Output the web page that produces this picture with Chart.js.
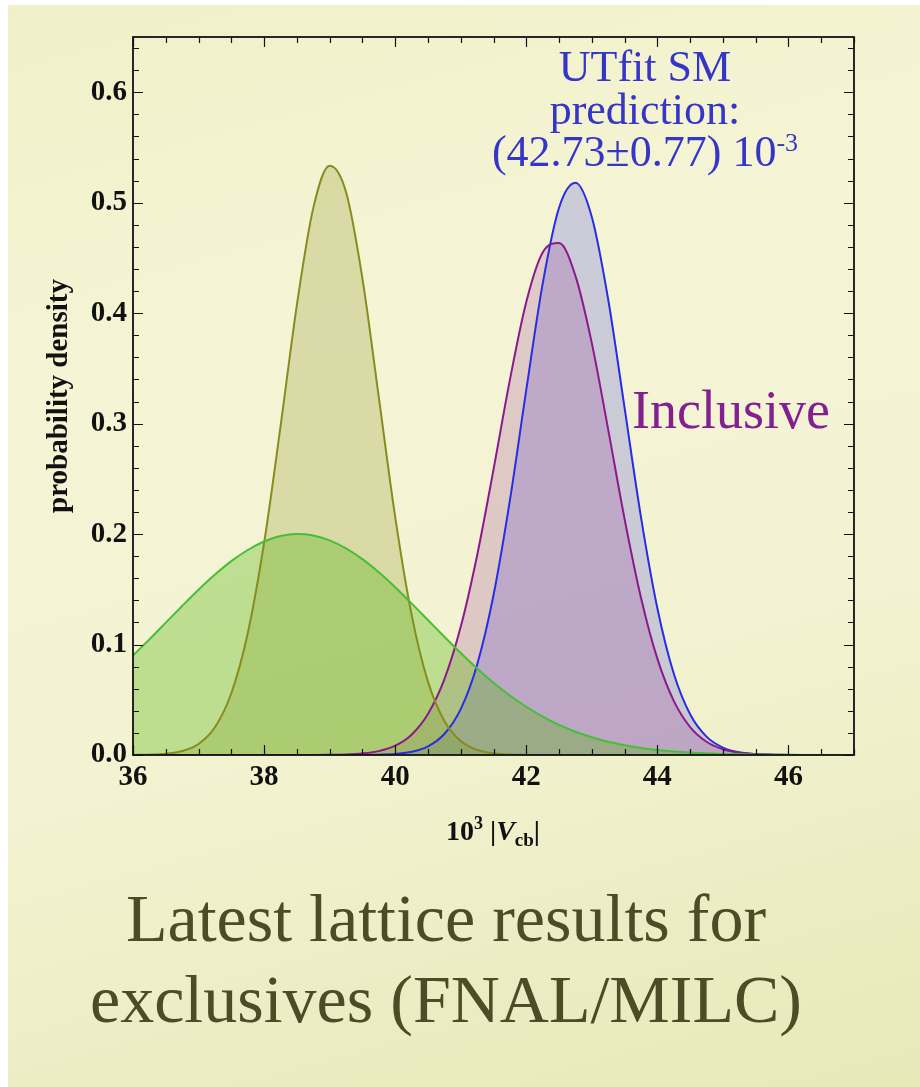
<!DOCTYPE html>
<html>
<head>
<meta charset="utf-8">
<script src="https://cdn.jsdelivr.net/npm/chart.js@4"></script>
<style>
  html, body { margin: 0; padding: 0; background: #fff; }
  body { width: 920px; height: 1087px; position: relative; overflow: hidden; font-family: "Liberation Serif", "Times New Roman", serif; }
  #bg { position: absolute; left: 8px; top: 5px; right: 0; bottom: 0;
        background: linear-gradient(165deg, #f0f0c8 0%, #f5f5d6 30%, #f3f3d2 60%, #e8e8b9 100%); }
  #chart { position: absolute; left: 0; top: 0; }
  .txt { position: absolute; white-space: nowrap; }
  #xtitle { left: 393px; width: 200px; top: 816px; text-align: center; font-size: 28px; font-weight: bold; line-height: 30px; color: #111; }
  #xtitle .sup { font-size: 18px; position: relative; top: -11px; }
  #xtitle .sub { font-size: 19px; position: relative; top: 6px; }
  #utfit { left: 445px; width: 400px; top: 46px; text-align: center; font-size: 44px; line-height: 42.5px; color: #3535c8; }
  #utfit .sup { font-size: 26px; position: relative; top: -15px; }
  #incl { left: 632px; top: 383px; font-size: 54px; line-height: 54px; color: #83208f; }
  #caption { left: 0; width: 892px; top: 878px; text-align: center; font-size: 68px; line-height: 81px; color: #4a4d26; }
</style>
</head>
<body>
<div id="bg"></div>
<canvas id="chart" width="920" height="870"></canvas>
<div class="txt" id="xtitle">10<span class="sup">3</span> |<i>V</i><span class="sub">cb</span>|</div>
<div class="txt" id="utfit">UTfit SM<br>prediction:<br>(42.73±0.77) 10<span class="sup">-3</span></div>
<div class="txt" id="incl">Inclusive</div>
<div class="txt" id="caption">Latest lattice results for<br>exclusives (FNAL/MILC)</div>
<script>
// |Vcb| grid (x 10^3), step 0.25
const vcb = [36, 36.25, 36.5, 36.75, 37, 37.25, 37.5, 37.75, 38, 38.25, 38.5, 38.75,
  39, 39.25, 39.5, 39.75, 40, 40.25, 40.5, 40.75, 41, 41.25, 41.5, 41.75,
  42, 42.25, 42.5, 42.75, 43, 43.25, 43.5, 43.75, 44, 44.25, 44.5, 44.75,
  45, 45.25, 45.5, 45.75, 46, 46.25, 46.5, 46.75, 47];

// exclusive B -> D l nu (wide, green)
const exclD = [0.0901, 0.1047, 0.1198, 0.1349, 0.1496, 0.1633, 0.1755, 0.1856, 0.1933, 0.1982, 0.2000, 0.1987,
  0.1943, 0.1870, 0.1773, 0.1654, 0.1519, 0.1373, 0.1222, 0.1071, 0.0924, 0.0784, 0.0655, 0.0539,
  0.0437, 0.0348, 0.0273, 0.0211, 0.0161, 0.0120, 0.0089, 0.0064, 0.0046, 0.0032, 0.0022, 0.0015,
  0.0010, 0.0007, 0.0004, 0.0003, 0.0002, 0.0001, 0.0001, 0, 0];

// exclusive B -> D* l nu (narrow, olive)
const exclDstar = [0.0001, 0.0003, 0.0011, 0.0036, 0.0100, 0.0251, 0.0559, 0.1100, 0.1919, 0.2970, 0.4073, 0.4951,
  0.5335, 0.5097, 0.4315, 0.3239, 0.2155, 0.1271, 0.0664, 0.0308, 0.0126, 0.0046, 0.0015, 0.0004,
  0.0001, 0, 0, 0, 0, 0, 0, 0, 0, 0, 0, 0,
  0, 0, 0, 0, 0, 0, 0, 0, 0];

// inclusive (purple)
const inclusive = [0, 0, 0, 0, 0, 0, 0, 0, 0, 0, 0, 0,
  0.0002, 0.0005, 0.0014, 0.0035, 0.0084, 0.0184, 0.0371, 0.0684, 0.1160, 0.1806, 0.2584, 0.3396,
  0.4101, 0.4549, 0.4635, 0.4338, 0.3729, 0.2945, 0.2137, 0.1424, 0.0872, 0.0490, 0.0253, 0.0120,
  0.0052, 0.0021, 0.0008, 0.0003, 0.0001, 0, 0, 0, 0];

// UTfit SM prediction (blue)
const utfit = [0, 0, 0, 0, 0, 0, 0, 0, 0, 0, 0, 0,
  0, 0, 0, 0.0003, 0.0010, 0.0029, 0.0078, 0.0190, 0.0415, 0.0817, 0.1446, 0.2305,
  0.3305, 0.4265, 0.4954, 0.5180, 0.4871, 0.4124, 0.3142, 0.2154, 0.1329, 0.0738, 0.0369, 0.0166,
  0.0067, 0.0024, 0.0008, 0.0002, 0, 0, 0, 0, 0];

const xTickLabels = [36, 38, 40, 42, 44, 46];
const yTickLabels = [0, 0.1, 0.2, 0.3, 0.4, 0.5, 0.6];
const X_MIN = 36, X_MAX = 47, X_MINOR = 0.5;
const Y_MIN = 0, Y_MAX = 0.65, Y_MINOR = 0.02;

function series(values) {
  return vcb.map((x, i) => ({ x: x, y: values[i] }));
}

function curve(values, line, fill) {
  return {
    data: series(values),
    borderColor: line,
    backgroundColor: fill,
    borderWidth: 2,
    fill: "origin",
    pointRadius: 0,
    cubicInterpolationMode: "monotone",
  };
}

// frame with inward ticks on all four sides (Mathematica style)
const framePlugin = {
  id: "frame",
  afterDatasetsDraw(chart) {
    const { ctx, chartArea: a, scales: { x, y } } = chart;
    ctx.save();
    ctx.strokeStyle = "#111";
    ctx.lineWidth = 1.2;
    ctx.beginPath();
    for (let k = 0; X_MIN + k * X_MINOR <= X_MAX + 1e-9; k++) {
      const v = X_MIN + k * X_MINOR;
      const px = Math.round(x.getPixelForValue(v)) + 0.5;
      const len = xTickLabels.includes(v) ? 10 : 6;
      ctx.moveTo(px, a.bottom); ctx.lineTo(px, a.bottom - len);
      ctx.moveTo(px, a.top); ctx.lineTo(px, a.top + len);
    }
    for (let k = 0; Y_MIN + k * Y_MINOR <= Y_MAX + 1e-9; k++) {
      const v = Y_MIN + k * Y_MINOR;
      const py = Math.round(y.getPixelForValue(v)) + 0.5;
      const len = k % 5 === 0 ? 10 : 6;
      ctx.moveTo(a.left, py); ctx.lineTo(a.left + len, py);
      ctx.moveTo(a.right, py); ctx.lineTo(a.right - len, py);
    }
    ctx.stroke();
    ctx.lineWidth = 1.8;
    ctx.strokeRect(a.left, a.top, a.right - a.left, a.bottom - a.top);
    ctx.restore();
  },
};

Chart.defaults.font.family = '"Liberation Serif", "Times New Roman", serif';
Chart.defaults.color = "#111";

const ctx = document.getElementById("chart").getContext("2d");
new Chart(ctx, {
  type: "line",
  data: {
    datasets: [
      curve(exclD, "rgb(70,190,55)", "rgba(90,180,20,0.35)"),
      curve(exclDstar, "rgb(135,140,30)", "rgba(140,140,30,0.25)"),
      curve(inclusive, "rgb(140,25,140)", "rgba(140,30,140,0.2)"),
      curve(utfit, "rgb(40,45,225)", "rgba(40,40,230,0.2)"),
    ],
  },
  options: {
    responsive: false,
    animation: false,
    devicePixelRatio: 1,
    layout: { padding: { left: 8, right: 66, top: 37, bottom: 55 } },
    plugins: {
      legend: { display: false },
      tooltip: { enabled: false },
      filler: { drawTime: "beforeDatasetsDraw" },
    },
    scales: {
      x: {
        type: "linear",
        min: X_MIN,
        max: X_MAX,
        grid: { display: false, drawTicks: false },
        border: { display: false },
        afterBuildTicks: (s) => { s.ticks = xTickLabels.map((v) => ({ value: v })); },
        afterFit: (s) => { s.height = 60; },
        ticks: { padding: 5, font: { size: 29, weight: "bold" }, maxRotation: 0, callback: (v) => String(v) },
      },
      y: {
        type: "linear",
        min: Y_MIN,
        max: Y_MAX,
        grid: { display: false, drawTicks: false },
        border: { display: false },
        afterBuildTicks: (s) => { s.ticks = yTickLabels.map((v) => ({ value: v })); },
        afterFit: (s) => { s.width = 125; },
        ticks: { padding: 6, font: { size: 29, weight: "bold" }, callback: (v) => v.toFixed(1) },
        title: {
          display: true,
          text: "probability density",
          font: { size: 29, weight: "bold" },
          padding: { top: 34, bottom: 0 },
        },
      },
    },
  },
  plugins: [framePlugin],
});
</script>
</body>
</html>
